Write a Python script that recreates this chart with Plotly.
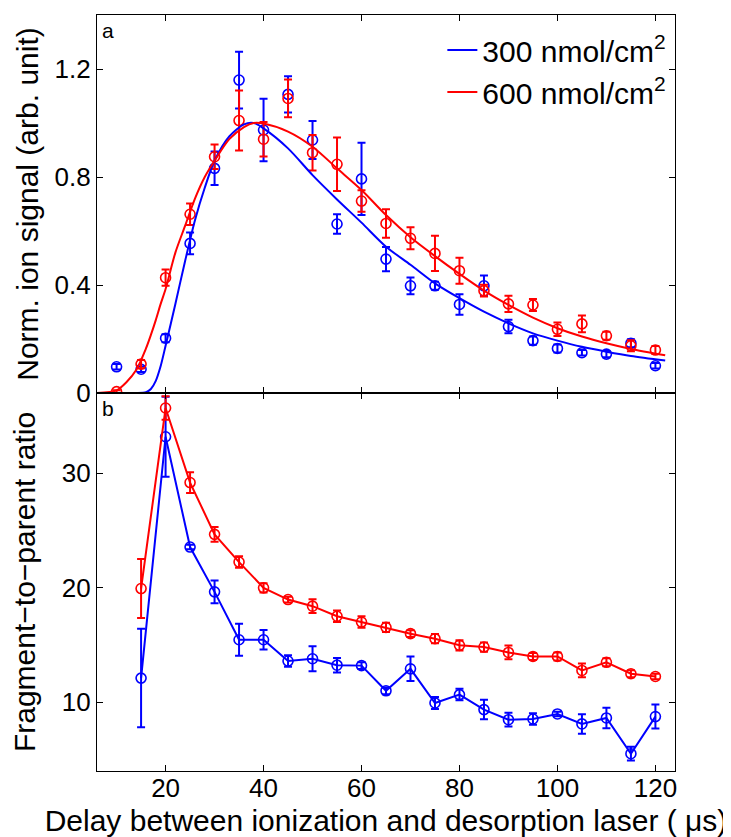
import plotly.graph_objects as go
from plotly.subplots import make_subplots

# ---------------- data ----------------
delay = [10, 15, 20, 25, 30, 35, 40, 45, 50, 55, 60, 65, 70, 75, 80, 85, 90, 95, 100, 105, 110, 115, 120]

sig_300 = [0.097, 0.088, 0.203, 0.554, 0.832, 1.159, 0.974, 1.106, 0.937, 0.626, 0.793, 0.496,
           0.397, 0.397, 0.328, 0.397, 0.246, 0.194, 0.165, 0.149, 0.144, 0.184, 0.101]
sig_300_err = [0.010, 0.010, 0.015, 0.040, 0.062, 0.105, 0.116, 0.067, 0.070, 0.036, 0.134, 0.045,
               0.031, 0.015, 0.038, 0.038, 0.025, 0.015, 0.015, 0.010, 0.012, 0.015, 0.010]

sig_600 = [0.005, 0.107, 0.427, 0.662, 0.875, 1.009, 0.940, 1.091, 0.890, 0.847, 0.711, 0.628,
           0.573, 0.517, 0.453, 0.379, 0.330, 0.326, 0.236, 0.256, 0.212, 0.175, 0.159]
sig_600_err = [0.005, 0.015, 0.030, 0.040, 0.045, 0.111, 0.064, 0.070, 0.066, 0.099, 0.040, 0.053,
               0.041, 0.065, 0.048, 0.022, 0.030, 0.022, 0.025, 0.031, 0.015, 0.020, 0.015]

# fitted curves
fit_x = [6, 10, 12, 14, 16, 17, 18, 19, 20, 22, 24, 26, 28, 30, 33, 36, 38, 40, 45, 50, 55, 60,
         65, 70, 75, 80, 85, 90, 95, 100, 105, 110, 115, 122]
fit_300 = [0.0, 0.0, 0.0, 0.0, 0.003, 0.015, 0.045, 0.10, 0.175, 0.33, 0.49, 0.64, 0.76, 0.86,
           0.95, 0.995, 1.0, 0.98, 0.906, 0.807, 0.717, 0.631, 0.542, 0.475, 0.406, 0.351, 0.301,
           0.258, 0.221, 0.194, 0.171, 0.153, 0.137, 0.120]
fit_600 = [0.0, 0.01, 0.04, 0.085, 0.165, 0.215, 0.27, 0.33, 0.385, 0.52, 0.62, 0.72, 0.80, 0.86,
           0.94, 0.985, 1.0, 0.998, 0.968, 0.912, 0.832, 0.752, 0.659, 0.577, 0.507, 0.441, 0.379,
           0.326, 0.279, 0.240, 0.209, 0.184, 0.163, 0.140]

ratio_x = delay[1:]
ratio_300 = [12.11, 33.18, 23.55, 19.64, 15.46, 15.46, 13.6, 13.8, 13.24, 13.2, 11.0, 12.92,
             9.94, 10.67, 9.36, 8.48, 8.54, 8.98, 8.11, 8.63, 5.51, 8.75]
ratio_300_err = [4.3, 3.5, 0.2, 1.0, 1.4, 0.85, 0.5, 1.1, 0.63, 0.3, 0.3, 1.07,
                 0.53, 0.5, 0.85, 0.6, 0.5, 0.2, 0.85, 0.9, 0.6, 1.05]
ratio_600 = [19.93, 35.69, 29.18, 24.66, 22.24, 19.99, 18.97, 18.39, 17.51, 17.0, 16.54, 15.99,
             15.55, 14.97, 14.82, 14.35, 14.0, 14.0, 12.78, 13.49, 12.49, 12.25]
ratio_600_err = [2.58, 1.02, 0.9, 0.64, 0.5, 0.4, 0.25, 0.6, 0.5, 0.5, 0.4, 0.3,
                 0.4, 0.45, 0.4, 0.6, 0.3, 0.35, 0.6, 0.35, 0.3, 0.25]

labels = ["300 nmol/cm<sup>2</sup>", "600 nmol/cm<sup>2</sup>"]
BLUE = "rgb(0,0,255)"
RED = "rgb(255,0,0)"
FONT = "Liberation Sans, Arial, sans-serif"

fig = make_subplots(rows=2, cols=1, shared_xaxes=True, vertical_spacing=0)

def err(arr, color):
    return dict(type="data", array=arr, visible=True, color=color, thickness=2, width=4)

marker_kw = lambda c: dict(symbol="circle-open", size=10, color=c, line=dict(width=1.6, color=c))

# top panel: data points
for y, e, c in [(sig_300, sig_300_err, BLUE), (sig_600, sig_600_err, RED)]:
    fig.add_trace(go.Scatter(x=delay, y=y, mode="markers", marker=marker_kw(c),
                             error_y=err(e, c), showlegend=False), row=1, col=1)
# top panel: fits
for y, c, name in [(fit_300, BLUE, labels[0]), (fit_600, RED, labels[1])]:
    fig.add_trace(go.Scatter(x=fit_x, y=y, mode="lines", name=name,
                             line=dict(color=c, width=2, shape="spline", smoothing=0.8),
                             showlegend=True), row=1, col=1)

# bottom panel
for y, e, c in [(ratio_300, ratio_300_err, BLUE), (ratio_600, ratio_600_err, RED)]:
    fig.add_trace(go.Scatter(x=ratio_x, y=y, mode="lines+markers", marker=marker_kw(c),
                             line=dict(color=c, width=2),
                             error_y=err(e, c), showlegend=False), row=2, col=1)

axis_common = dict(showline=True, linecolor="black", linewidth=1.2, mirror="allticks",
                   ticks="inside", ticklen=6, tickwidth=1, tickcolor="black",
                   showgrid=False, zeroline=False, automargin=False,
                   tickfont=dict(family=FONT, size=26, color="black"))

fig.update_xaxes(range=[6, 124], tickvals=[20, 40, 60, 80, 100, 120], **axis_common)
fig.update_xaxes(showticklabels=False, row=1, col=1)
fig.update_xaxes(title=dict(text="Delay between ionization and desorption laser ( \u03bcs)",
                            font=dict(family=FONT, size=30, color="black"), standoff=8),
                 ticklabelstandoff=-6, row=2, col=1)

fig.update_yaxes(range=[0, 1.4], tickvals=[0, 0.4, 0.8, 1.2], ticktext=["0", "0.4", "0.8", "1.2"],
                 title=dict(text="Norm. ion signal (arb. unit)",
                            font=dict(family=FONT, size=30, color="black"), standoff=7),
                 row=1, col=1, **axis_common)
fig.update_yaxes(range=[4, 37], tickvals=[10, 20, 30],
                 title=dict(text="Fragment\u2212to\u2212parent ratio",
                            font=dict(family=FONT, size=30, color="black"), standoff=25),
                 row=2, col=1, **axis_common)

fig.add_annotation(text="a", xref="x domain", yref="y domain", x=0.005, y=0.995,
                   xanchor="left", yanchor="top", showarrow=False,
                   font=dict(family=FONT, size=21, color="black"))
fig.add_annotation(text="b", xref="x2 domain", yref="y2 domain", x=0.005, y=0.995,
                   xanchor="left", yanchor="top", showarrow=False,
                   font=dict(family=FONT, size=21, color="black"))

# the page body adds an 8px offset, so the figure is drawn 8px smaller
fig.update_layout(
    width=723, height=829,
    margin=dict(l=89, r=56, t=7, b=66),
    paper_bgcolor="white", plot_bgcolor="white",
    font=dict(family=FONT, color="black"),
    legend=dict(x=0.5975, y=0.988, xanchor="left", yanchor="top",
                bgcolor="rgba(0,0,0,0)", borderwidth=0,
                font=dict(family=FONT, size=30, color="black"),
                itemwidth=30, tracegroupgap=0),
)

fig.write_html("out.html")
